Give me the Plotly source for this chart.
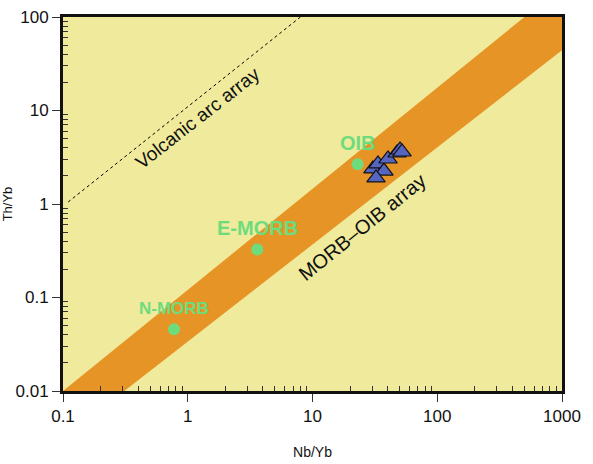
import math
import plotly.graph_objects as go

# Sample data (Nb/Yb, Th/Yb)
samples_nb_yb = [30.5, 33.5, 37.4, 32.3, 40.3, 47.6, 50.3, 52.2]
samples_th_yb = [2.37, 2.68, 2.25, 1.90, 3.03, 3.51, 3.78, 3.60]

# Reference compositions
ref_names = ["N-MORB", "E-MORB", "OIB"]
ref_nb_yb = [0.776, 3.61, 23.0]
ref_th_yb = [0.0457, 0.327, 2.66]
ref_font_sizes = [17, 20, 20]

# MORB-OIB array polygon (Nb/Yb, Th/Yb)
array_nb_yb = [0.1, 500, 1000, 1000, 0.31, 0.1]
array_th_yb = [0.01, 100, 100, 44, 0.01, 0.01]

# Volcanic arc array line
arc_nb_yb = [0.11, 8.0]
arc_th_yb = [1.05, 100]

x_ticks = [0.1, 1, 10, 100, 1000]
x_tick_labels = ["0.1", "1", "10", "100", "1000"]
y_ticks = [0.01, 0.1, 1, 10, 100]
y_tick_labels = ["0.01", "0.1", "1", "10", "100"]

BG = "#EFEA9C"
BAND = "#E79427"
GREEN = "#6EDC7C"
TRI = "#5565C0"
FONT = "Liberation Sans, Arial, sans-serif"


def minor_vals(lo_exp, hi_exp):
    out = []
    for e in range(lo_exp, hi_exp):
        for m in range(2, 10):
            out.append(m * 10.0 ** e)
    return out


fig = go.Figure()

fig.add_trace(go.Scatter(
    x=array_nb_yb, y=array_th_yb, mode="lines", fill="toself",
    fillcolor=BAND, line=dict(width=0, color=BAND), hoverinfo="skip",
    showlegend=False))

fig.add_trace(go.Scatter(
    x=arc_nb_yb, y=arc_th_yb, mode="lines",
    line=dict(color="black", width=1, dash="3px,3px"), showlegend=False))

fig.add_trace(go.Scatter(
    x=ref_nb_yb, y=ref_th_yb, mode="markers",
    marker=dict(color=GREEN, size=12, line=dict(width=0)), showlegend=False))

fig.add_trace(go.Scatter(
    x=samples_nb_yb, y=samples_th_yb, mode="markers",
    marker=dict(symbol="triangle-up", color=TRI, size=16,
                line=dict(color="#111111", width=1.2)),
    showlegend=False))

for name, xv, yv, fs in zip(ref_names, ref_nb_yb, ref_th_yb, ref_font_sizes):
    fig.add_annotation(x=math.log10(xv), y=math.log10(yv), text=f"<b>{name}</b>",
                       showarrow=False, yshift=21,
                       font=dict(family=FONT, size=fs, color=GREEN))

fig.add_annotation(x=0.085, y=0.92, text="Volcanic arc array", showarrow=False,
                   textangle=-38, font=dict(family=FONT, size=19, color="#111111"))
fig.add_annotation(x=1.40, y=-0.25, text="MORB–OIB array", showarrow=False,
                   textangle=-39, font=dict(family=FONT, size=20, color="#111111"))

axis_common = dict(
    type="log", showgrid=False, zeroline=False, automargin=False,
    showline=True, linecolor="#111111", linewidth=3, mirror=True,
    ticks="outside", ticklen=8, tickwidth=1, tickcolor="#333333",
    tickfont=dict(family=FONT, size=17, color="#111111"),
)

fig.update_xaxes(range=[-1, 3], tickvals=x_ticks, ticktext=x_tick_labels,
                 minor=dict(ticks="inside", ticklen=5, tickwidth=1, tickcolor="#333333",
                            showgrid=False, tickvals=minor_vals(-1, 3)),
                 title=dict(text="Nb/Yb", font=dict(family=FONT, size=14, color="#111111"),
                            standoff=22),
                 **axis_common)
fig.update_yaxes(range=[-2, 2], tickvals=y_ticks, ticktext=y_tick_labels,
                 minor=dict(ticks="inside", ticklen=5, tickwidth=1, tickcolor="#333333",
                            showgrid=False, tickvals=minor_vals(-2, 2)),
                 title=dict(text="Th/Yb", font=dict(family=FONT, size=13, color="#111111"),
                            standoff=8),
                 **axis_common)

fig.update_layout(
    width=593, height=464,
    margin=dict(l=63, r=31, t=17, b=73),
    paper_bgcolor="white", plot_bgcolor=BG,
    font=dict(family=FONT),
)

fig.write_html("out.html", config={"displayModeBar": False},
               post_script="document.body.style.margin='0';document.body.style.overflow='hidden';")
